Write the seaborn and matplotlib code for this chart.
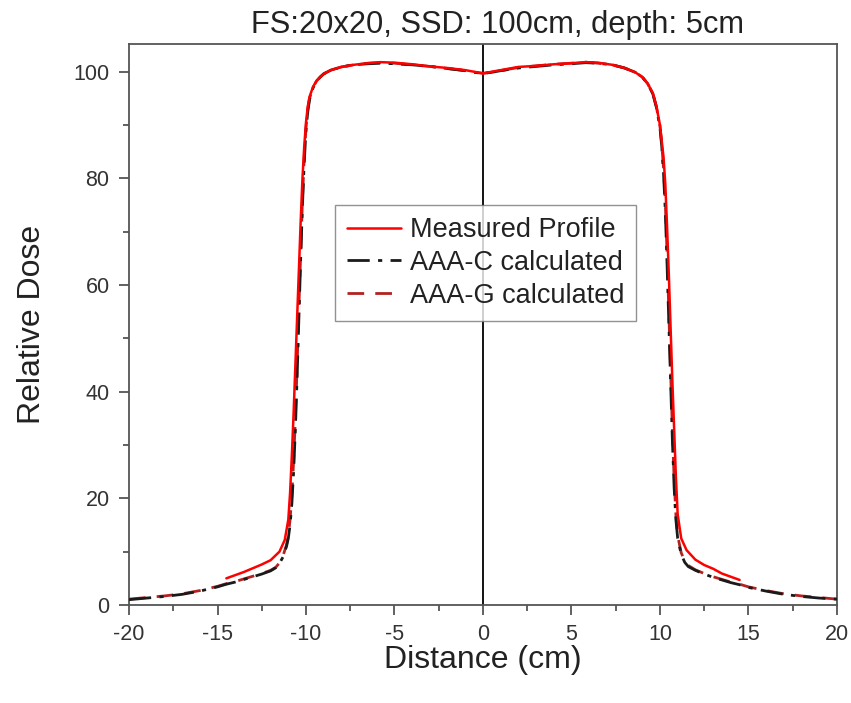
import matplotlib
matplotlib.use("Agg")
import matplotlib.pyplot as plt
import seaborn as sns
import pandas as pd
from matplotlib.ticker import MultipleLocator

# ---------------- data ----------------
meas_x = [-14.5, -13.5, -13.0, -12.5, -12.0, -11.5, -11.2, -11.0, -10.9, -10.8, -10.7, -10.6,
          -10.5, -10.4, -10.3, -10.2, -10.1, -10.0, -9.9, -9.8, -9.6, -9.4, -9.2, -9.0, -8.6,
          -8.0, -7.3, -6.5, -5.8, -5.0, -4.0, -3.0, -2.0, -1.0, -0.5, 0.0, 0.5, 1.0, 2.0, 3.0,
          4.0, 5.0, 5.8, 6.5, 7.3, 8.0, 8.6, 9.0, 9.3, 9.6, 9.8, 10.0, 10.1, 10.2, 10.3, 10.4,
          10.5, 10.6, 10.7, 10.8, 10.9, 11.0, 11.2, 11.5, 12.0, 12.5, 13.0, 13.5, 14.5]
meas_y = [5.0, 6.2, 6.9, 7.6, 8.4, 10.0, 12.2, 16.0, 21.0, 28.0, 36.0, 45.0,
          54.0, 63.0, 72.0, 80.0, 86.0, 90.5, 93.5, 95.3, 97.2, 98.3, 99.0, 99.6, 100.3,
          100.9, 101.3, 101.6, 101.8, 101.7, 101.4, 101.0, 100.7, 100.3, 100.0, 99.7, 100.0, 100.3, 100.9, 101.1,
          101.4, 101.6, 101.8, 101.7, 101.3, 100.7, 99.9, 99.0, 97.8, 96.0, 93.5, 90.0, 87.0, 84.0, 79.0, 71.0,
          62.0, 52.0, 42.0, 33.0, 24.0, 17.0, 12.5, 10.3, 8.5, 7.5, 6.8, 5.9, 4.7]

aaac_x = [-20.0, -19.0, -18.0, -17.0, -16.0, -15.0, -14.5, -14.0, -13.5, -13.0, -12.5, -12.0,
          -11.7, -11.5, -11.3, -11.1, -11.0, -10.9, -10.8, -10.7, -10.6, -10.5, -10.4, -10.3,
          -10.2, -10.1, -10.0, -9.9, -9.8, -9.6, -9.4, -9.2, -9.0, -8.6, -8.0, -7.3, -6.5, -5.8,
          -5.0, -4.0, -3.0, -2.0, -1.0, -0.5, 0.0, 0.5, 1.0, 2.0, 3.0, 4.0, 5.0, 5.8, 6.5, 7.3,
          8.0, 8.6, 9.0, 9.3, 9.6, 9.8, 10.0, 10.1, 10.2, 10.3, 10.4, 10.5, 10.6, 10.7, 10.8,
          10.9, 11.0, 11.2, 11.4, 11.6, 12.0, 12.5, 13.0, 13.5, 14.0, 14.5, 15.0, 16.0, 17.0,
          18.0, 19.0, 20.0]
aaac_y = [1.0, 1.3, 1.6, 2.0, 2.6, 3.4, 3.9, 4.3, 4.8, 5.3, 5.8, 6.4,
          7.0, 7.8, 9.0, 11.0, 12.5, 15.0, 19.0, 25.0, 33.0, 43.0, 54.0, 65.0,
          75.0, 83.0, 89.0, 92.5, 94.8, 97.0, 98.2, 99.0, 99.6, 100.3, 100.9, 101.3, 101.5, 101.6,
          101.5, 101.3, 101.0, 100.6, 100.2, 99.9, 99.7, 99.9, 100.2, 100.7, 101.0, 101.3, 101.5, 101.7, 101.6, 101.3,
          100.7, 99.9, 99.0, 97.8, 95.8, 93.3, 89.5, 86.0, 81.0, 74.0, 64.0, 53.0, 42.0, 31.0, 22.0,
          16.0, 12.5, 9.5, 8.0, 7.2, 6.5, 5.8, 5.2, 4.7, 4.2, 3.8, 3.3, 2.6, 2.0,
          1.6, 1.3, 1.1]

aaag_x = [-20.0, -19.0, -18.0, -17.0, -16.0, -15.0, -14.5, -14.0, -13.5, -13.0, -12.5, -12.0,
          -11.7, -11.5, -11.3, -11.1, -11.0, -10.9, -10.8, -10.7, -10.6, -10.5, -10.4, -10.3,
          -10.2, -10.1, -10.0, -9.9, -9.8, -9.6, -9.4, -9.2, -9.0, -8.6, -8.0, -7.3, -6.5, -5.8,
          -5.0, -4.0, -3.0, -2.0, -1.0, -0.5, 0.0, 0.5, 1.0, 2.0, 3.0, 4.0, 5.0, 5.8, 6.5, 7.3,
          8.0, 8.6, 9.0, 9.3, 9.6, 9.8, 10.0, 10.1, 10.2, 10.3, 10.4, 10.5, 10.6, 10.7, 10.8,
          10.9, 11.0, 11.2, 11.4, 11.6, 12.0, 12.5, 13.0, 13.5, 14.0, 14.5, 15.0, 16.0, 17.0,
          18.0, 19.0, 20.0]
aaag_y = [1.1, 1.4, 1.7, 2.1, 2.7, 3.5, 4.0, 4.4, 4.9, 5.4, 5.9, 6.5,
          7.1, 7.9, 9.2, 11.3, 13.0, 16.0, 20.5, 27.0, 35.0, 45.0, 56.0, 66.0,
          76.0, 84.0, 89.5, 93.0, 95.0, 97.1, 98.3, 99.0, 99.6, 100.3, 100.9, 101.3, 101.6, 101.7,
          101.6, 101.3, 101.0, 100.6, 100.2, 99.9, 99.7, 99.9, 100.2, 100.8, 101.1, 101.4, 101.6, 101.8, 101.6, 101.3,
          100.7, 99.9, 99.0, 97.8, 95.9, 93.4, 89.8, 86.5, 82.0, 75.5, 66.0, 55.0, 44.0, 33.0, 23.5,
          17.0, 13.0, 9.8, 8.2, 7.4, 6.6, 5.9, 5.3, 4.8, 4.3, 3.9, 3.4, 2.7, 2.1,
          1.7, 1.4, 1.1]

title = "FS:20x20, SSD: 100cm, depth: 5cm"
xlabel = "Distance (cm)"
ylabel = "Relative Dose"
labels = ["Measured Profile", "AAA-C calculated", "AAA-G calculated"]

# ---------------- plot ----------------
sns.set_theme(style="ticks")
plt.rcParams["font.family"] = ["Liberation Sans", "DejaVu Sans"]
plt.rcParams["axes.unicode_minus"] = False

fig = plt.figure(figsize=(8.51, 7.03), dpi=100)
ax = fig.add_axes([0.1516, 0.1394, 0.8319, 0.798])

df_m = pd.DataFrame({"x": meas_x, "y": meas_y})
df_c = pd.DataFrame({"x": aaac_x, "y": aaac_y})
df_g = pd.DataFrame({"x": aaag_x, "y": aaag_y})

ax.axvline(0, color="black", lw=1.3, zorder=1)

sns.lineplot(data=df_c, x="x", y="y", ax=ax, sort=False, estimator=None,
             color="#1a1a1a", lw=2.0, label=labels[1], zorder=3)
ax.lines[-1].set_dashes([8, 3, 1.5, 3])
sns.lineplot(data=df_g, x="x", y="y", ax=ax, sort=False, estimator=None,
             color="#b22222", lw=2.0, label=labels[2], zorder=2)
ax.lines[-1].set_dashes([6, 4])
sns.lineplot(data=df_m, x="x", y="y", ax=ax, sort=False, estimator=None,
             color="#ff0000", lw=1.8, label=labels[0], zorder=4)

ax.set_xlim(-20, 20)
ax.set_ylim(0, 105.2)
ax.xaxis.set_major_locator(MultipleLocator(5))
ax.xaxis.set_minor_locator(MultipleLocator(2.5))
ax.yaxis.set_major_locator(MultipleLocator(20))
ax.yaxis.set_minor_locator(MultipleLocator(10))

for s in ax.spines.values():
    s.set_visible(True)
    s.set_color("#555555")
    s.set_linewidth(1.3)

ax.tick_params(axis="both", which="major", direction="out", length=7, width=1.3,
               color="#555555", labelsize=15.5, labelcolor="#333333", pad=7)
ax.tick_params(axis="both", which="minor", direction="out", length=4.5, width=1.3,
               color="#555555")

ax.set_title(title, fontsize=22.2, color="#222222", pad=8, x=0.52)
ax.set_xlabel(xlabel, fontsize=23, color="#222222", labelpad=0)
ax.set_ylabel(ylabel, fontsize=23, color="#222222", labelpad=19)

h, l = ax.get_legend_handles_labels()
order = [l.index(t) for t in labels]
leg = ax.legend([h[i] for i in order], [l[i] for i in order],
                loc="upper left", bbox_to_anchor=(0.291, 0.713),
                fontsize=19.5, frameon=True, fancybox=False, handlelength=2.0,
                handletextpad=0.3, borderpad=0.45, labelspacing=0.25, borderaxespad=0)
leg.get_frame().set_edgecolor("#777777")
leg.get_frame().set_linewidth(1.0)
for t in leg.get_texts():
    t.set_color("#222222")

fig.savefig("out.png", dpi=100)
